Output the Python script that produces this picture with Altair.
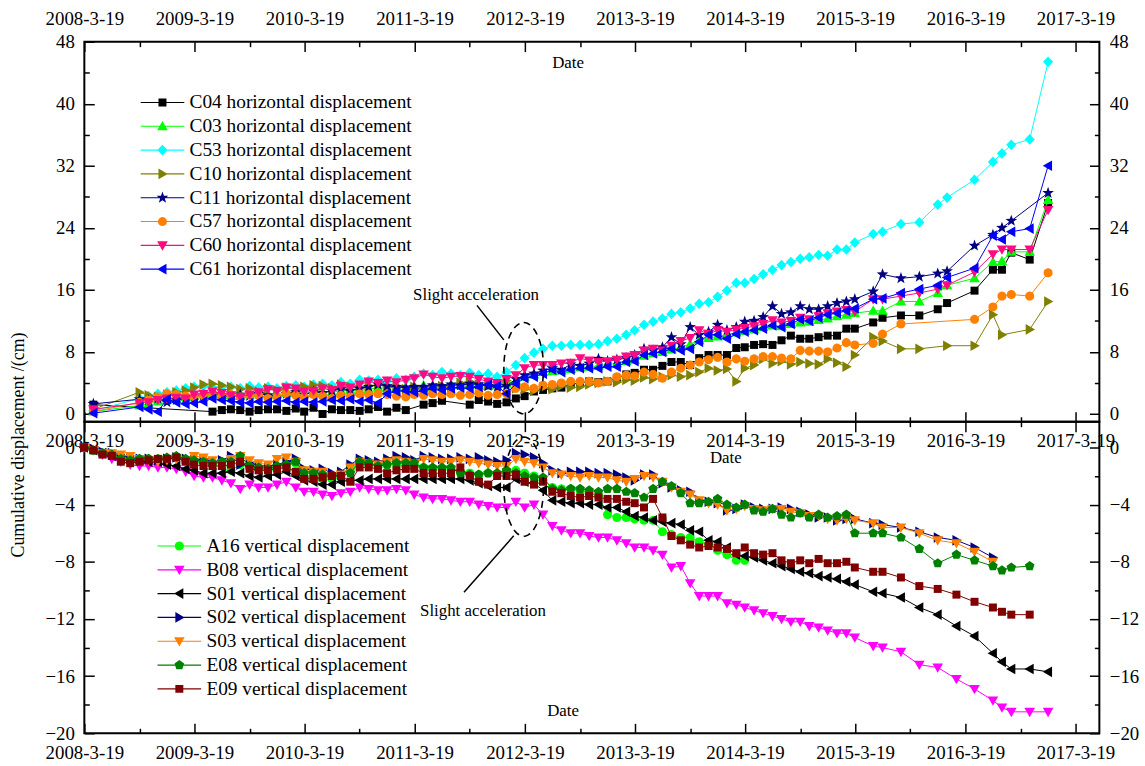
import math
import altair as alt
import pandas as pd

FONT = "Liberation Serif"

# ---------------- epochs (survey months) ----------------
DENSE_MONTHS = [
    "2008-09", "2008-10", "2008-11", "2008-12",
    "2009-01", "2009-02", "2009-03", "2009-04", "2009-05", "2009-06", "2009-07", "2009-08", "2009-09", "2009-10", "2009-11", "2009-12",
    "2010-01", "2010-02", "2010-03", "2010-04", "2010-05", "2010-06", "2010-07", "2010-08", "2010-09", "2010-10", "2010-11", "2010-12",
    "2011-01", "2011-02", "2011-03", "2011-04", "2011-05", "2011-06", "2011-07", "2011-08", "2011-09", "2011-10", "2011-11", "2011-12",
    "2012-01", "2012-02", "2012-03", "2012-04", "2012-05", "2012-06", "2012-07", "2012-08", "2012-09", "2012-10", "2012-11", "2012-12",
    "2013-01", "2013-02", "2013-03", "2013-04", "2013-05", "2013-06", "2013-07", "2013-08", "2013-09", "2013-10", "2013-11", "2013-12",
    "2014-01", "2014-02", "2014-03", "2014-04", "2014-05", "2014-06", "2014-07", "2014-08", "2014-09", "2014-10", "2014-11", "2014-12",
    "2015-01", "2015-02", "2015-03",
]
TOP_MONTHS = ["2008-04"] + DENSE_MONTHS
TOP_LATE = ["2015-05", "2015-06", "2015-08", "2015-10", "2015-12", "2016-01",
            "2016-04", "2016-06", "2016-07", "2016-08", "2016-10", "2016-12"]
BOT_MONTHS = ["2008-03", "2008-04", "2008-05", "2008-06", "2008-07", "2008-08"] + DENSE_MONTHS
BOT_LATE = ["2015-05", "2015-06", "2015-08", "2015-10", "2015-12", "2016-02",
            "2016-04", "2016-06", "2016-07", "2016-08", "2016-10", "2016-12"]
N = None

# ---------------- horizontal displacement (cm) ----------------
C04 = [1.2,
       N, N, N, N, N, N, N, N, 0.3, 0.5,
       0.6, 0.5, 0.3, 0.5, 0.6, 0.6, 0.4, 0.7, 0.3, 0.8,
       0.0, 0.6, 0.5, 0.5, 0.4, 0.6, 0.9, 0.3, 0.8, 0.5,
       N, 1.2, 1.4, 1.7, N, N, 1.2, 1.8, 1.6, 1.3,
       1.5, 2.0, 2.3, 2.9, 3.1, 3.3, 3.4, 3.8, 4.0, 4.2,
       4.1, 4.2, 4.6, 5.1, 5.3, 5.7, 5.7, 6.2, 6.7, 6.7,
       6.3, 7.2, 7.6, 7.6, 7.6, 8.5, 8.6, 8.9, 9.0, 8.9,
       9.5, 10.1, 9.7, 9.7, 9.9, 10.1, 10.1, 11.0, 11.0]
C03 = [0.3,
       1.1, 1.3, 1.6, 1.8, 2.0, 2.2, 2.3, 2.5, 2.6, 2.5,
       2.4, 2.3, 2.5, 2.7, 2.6, 2.5, 2.7, 2.8, 2.6, 2.7,
       2.9, 2.8, 3.0, 3.1, 3.0, 3.2, 3.4, 3.3, 3.5, 3.4,
       3.6, 3.7, 3.5, 3.6, 3.8, 3.7, 3.9, 3.8, 3.6, 3.8,
       3.9, 4.3, 4.8, 5.1, 5.4, 5.5, 5.6, 5.8, 6.0, 6.1,
       6.2, 6.4, 6.5, 6.8, 7.0, 7.5, 7.8, 8.0, 8.3, 8.6,
       9.0, 9.5, 9.8, 10.0, 10.2, 10.5, 10.7, 10.9, 11.2, 11.4,
       11.3, 11.6, 11.8, 11.9, 12.1, 12.3, 12.6, 12.8, 13.0]
C53 = [0.4,
       2.0, 2.3, 2.6, 2.8, 3.0, 3.3, 3.5, 3.6, 3.4, 3.5,
       3.5, 3.3, 3.6, 3.4, 3.5, 3.3, 3.6, 3.7, 3.5, 3.8,
       3.9, 3.7, 4.1, 3.9, 4.4, 4.3, 4.4, 4.2, 4.6, 4.4,
       4.8, 5.2, 5.0, 5.4, 5.2, 5.0, 5.3, 5.0, 5.2, 4.8,
       5.4, 6.3, 7.2, 7.9, 8.4, 8.8, 8.8, 8.9, 8.9, 8.9,
       9.0, 9.4, 9.7, 10.2, 10.8, 11.5, 11.9, 12.3, 12.9, 13.1,
       13.6, 14.2, 14.4, 15.1, 15.9, 16.9, 16.9, 17.4, 18.0, 18.6,
       19.2, 19.6, 20.0, 20.2, 20.5, 20.4, 21.2, 21.2, 22.1]
C10 = [0.6,
       2.8, 2.4, 2.2, 2.5, 2.8, 3.0, 3.4, 3.8, 3.9, 3.7,
       3.5, 3.2, 3.3, 2.9, 3.3, 3.0, 3.4, 3.2, 3.5, 3.7,
       3.6, 3.3, 3.8, 3.5, 3.3, 3.6, 3.8, 3.4, 3.6, 3.2,
       3.5, 3.0, 3.3, 3.6, 3.4, 4.0, 4.2, 3.8, 3.6, 3.9,
       4.3, 3.3, 3.2, 3.0, 3.4, 3.2, 3.6, 3.4, 3.5, 3.8,
       4.0, 4.2, 4.1, 4.4, 4.3, 4.7, 4.5, 4.8, 5.0, 4.8,
       5.0, 5.4, 5.9, 5.6, 5.8, 4.2, 5.9, 6.3, 7.1, 6.5,
       6.8, 6.4, 6.7, 6.5, 6.4, 7.1, 6.6, 6.1, 7.6]
C11 = [1.3,
       1.9, 1.8, 2.0, 1.5, 1.8, 2.0, 2.2, 2.4, 2.6, 2.4,
       2.2, 2.5, 2.3, 2.6, 2.4, 2.2, 2.6, 2.8, 2.5, 2.9,
       2.7, 3.0, 3.2, 3.0, 3.3, 3.5, 3.8, 3.6, 3.5, 3.4,
       3.5, 3.5, 3.7, 3.6, 3.8, 3.7, 3.9, 3.8, 3.6, 3.4,
       3.6, 4.5, 5.0, 5.2, 5.6, 5.9, 5.7, 6.4, 6.2, 6.5,
       7.1, 6.8, 7.0, 7.2, 7.6, 8.4, 8.2, 8.6, 9.9, 9.0,
       11.2, 10.2, 10.6, 11.5, 10.8, 11.2, 11.9, 12.0, 12.5, 13.9,
       12.9, 13.1, 13.9, 13.5, 13.5, 13.9, 14.3, 14.5, 14.8]
C57 = [0.3,
       1.5, 1.8, 2.2, 2.6, 2.5, 2.3, 2.2, 2.4, 2.6, 2.3,
       2.5, 2.2, 2.5, 2.4, 2.0, 2.2, 2.6, 2.4, 2.2, 2.5,
       2.3, 2.0, 2.4, 2.2, 2.6, 2.5, 2.6, 2.5, 2.3, 2.2,
       2.5, 2.4, 2.6, 2.5, 2.6, 2.4, 2.5, 2.7, 2.4, 2.5,
       2.6, 3.3, 3.5, 3.3, 3.7, 3.8, 4.0, 4.2, 4.2, 4.2,
       4.0, 4.2, 4.8, 5.0, 4.9, 5.4, 5.1, 4.6, 5.4, 5.9,
       6.3, 6.7, 7.0, 7.3, 6.7, 7.1, 6.8, 7.1, 7.4, 7.4,
       7.2, 7.1, 8.2, 8.1, 8.1, 8.0, 8.5, 9.2, 8.9]
C60 = [0.6,
       1.4, 1.5, 1.8, 2.0, 2.1, 2.0, 2.5, 2.6, 2.9, 2.7,
       2.4, 2.2, 2.5, 2.8, 3.2, 3.0, 3.4, 3.3, 2.9, 3.0,
       3.3, 3.1, 3.6, 3.4, 3.8, 4.2, 4.0, 4.3, 4.1, 4.4,
       4.6, 5.1, 4.8, 4.6, 4.8, 4.9, 4.8, 4.5, 4.2, 4.0,
       4.5, 5.0, 5.9, 6.3, 6.3, 6.3, 6.5, 6.6, 7.2, 6.9,
       6.7, 6.8, 7.0, 7.4, 7.6, 8.2, 8.4, 8.2, 8.8, 9.4,
       9.8, 10.8, 10.3, 10.8, 10.6, 10.9, 11.1, 11.3, 11.6, 12.1,
       11.8, 12.0, 12.4, 12.2, 12.6, 13.0, 13.2, 13.4, 13.2]
C61 = [0.1,
       0.9, 0.6, 0.3, 1.9, 1.5, 1.3, 1.4, 1.6, 2.0, 1.8,
       1.7, 1.5, 1.4, 1.6, 1.5, 1.6, 1.7, 1.5, 1.6, 1.5,
       1.6, 1.8, 1.7, 1.9, 1.6, 1.8, 1.4, 2.6, 2.9, 3.0,
       2.8, 3.0, 3.3, 3.1, 3.3, 3.4, 3.3, 3.5, 3.8, 3.6,
       2.6, 3.9, 4.6, 4.8, 5.2, 5.7, 5.4, 5.7, 5.9, 5.9,
       5.9, 6.1, 6.1, 6.7, 6.8, 7.6, 7.8, 8.0, 8.4, 8.2,
       8.4, 9.3, 10.2, 10.2, 9.7, 10.3, 10.6, 10.8, 11.0, 11.4,
       11.2, 11.6, 12.2, 12.0, 12.4, 12.8, 13.0, 13.3, 13.6]

C04_LATE = [11.8, 12.4, 12.7, 12.7, 13.5, 14.3, 15.9, 18.6, 18.6, 20.8, 19.9, 27.2]
C03_LATE = [13.3, 13.3, 14.5, 14.5, 15.6, 16.6, 17.5, 19.6, 19.7, 20.9, 20.9, 27.6]
C53_LATE = [23.2, 23.5, 24.5, 24.7, 27.0, 27.9, 30.2, 32.5, 33.6, 34.7, 35.4, 45.4]
C10_LATE = [9.9, 9.4, 8.4, 8.4, N, 8.8, 8.8, 12.8, 10.2, N, 10.9, 14.5]
C11_LATE = [15.8, 18.0, 17.5, 17.7, 18.1, 18.4, 21.7, 23.1, 24.0, 24.9, N, 28.5]
C57_LATE = [9.1, 10.3, 11.6, N, N, N, 12.2, 13.8, 15.2, 15.4, 15.2, 18.2]
C60_LATE = [14.8, 14.8, 15.2, 15.6, 16.1, 16.6, 18.3, 20.6, 21.2, 21.2, 21.2, 26.3]
C61_LATE = [14.8, 14.9, 15.6, 16.1, 16.6, 17.6, 18.8, 23.0, 22.5, 23.5, 23.9, 32.0]

# ---------------- vertical displacement (cm) ----------------
A16 = [0.0, -0.2, -0.4, -0.6, -0.8, -0.9,
       -0.9, -0.8, -0.9, -0.8, -0.7, -0.9, -1.0, -1.1, -1.2, -1.0,
       -1.6, -1.2, -1.4, -1.5, -1.6, -1.4, -1.3, -1.1, -2.1, -2.1,
       -2.2, -2.2, -2.1, -1.5, -1.1, -1.2, -1.3, -1.2, -1.2, -1.3,
       -1.3, -1.4, -1.5, -1.5, -1.5, -1.7, -1.8, -1.9, -1.8, -1.9,
       -1.7, -1.6, -1.8, -2.0, -2.3, -2.8, -2.9, -2.9, -3.0, -3.2,
       -3.4, -4.7, -4.9, -4.9, -5.0, -5.1, -5.1, -5.9, -6.1, -6.3,
       -6.3, -6.6, -6.8, -7.2, -7.5, -7.9, -7.9, N, N, N,
       N, N, N, N, N, N, N, N, N]
B08 = [0.0, -0.2, -0.5, -0.8, -1.0, -1.2,
       -1.3, -1.3, -1.4, -1.4, -1.5, -1.7, -2.0, -2.1, -2.1, -2.3,
       -2.5, -2.9, -2.6, -2.8, -2.8, -2.6, -2.4, -2.8, -3.1, -3.1,
       -3.3, -3.4, -3.2, -3.1, -2.8, -2.9, -3.0, -3.0, -2.9, -3.0,
       -3.3, -3.5, -3.6, -3.6, -3.7, -3.8, -3.8, -4.0, -4.1, -4.2,
       -4.2, -3.8, -4.2, -4.0, -4.7, -5.5, -5.8, -6.0, -6.0, -6.2,
       -6.3, -6.3, -6.5, -6.7, -7.0, -7.0, -7.2, -7.5, -8.4, -8.3,
       -9.5, -10.4, -10.4, -10.4, -10.9, -11.0, -11.2, -11.4, -11.6, -11.8,
       -12.0, -12.2, -12.2, -12.5, -12.6, -12.8, -13.0, -13.0, -13.3]
S01 = [0.0, -0.2, -0.4, -0.6, -0.8, -0.9,
       -0.9, -1.0, -1.0, -1.2, -1.3, -1.5, -1.6, -1.8, -1.8, -1.8,
       -1.7, -1.8, -2.0, -2.1, -2.0, -1.9, -1.7, -2.0, -2.3, -2.4,
       -2.6, -2.6, -2.4, -2.3, -2.3, -2.2, -2.2, -2.2, -2.2, -2.2,
       -2.2, -2.2, -2.2, -2.2, -2.2, -2.2, -2.3, -2.5, -2.7, -2.8,
       -2.8, -2.2, -2.4, -2.5, -3.0, -3.7, -3.8, -3.9, -3.9, -4.0,
       -4.0, -4.2, -4.2, -4.5, -4.8, -4.9, -5.1, -5.2, -5.3, -5.4,
       -5.8, -5.9, -6.5, -6.6, -7.0, -7.5, -7.6, -7.7, -7.9, -8.1,
       -8.3, -8.5, -8.7, -8.8, -9.0, -9.1, -9.2, -9.4, -9.6]
S02 = [0.0, -0.1, -0.3, -0.4, -0.6, -0.7,
       -0.8, -0.8, -0.9, -0.8, -0.7, -0.8, -0.9, -0.8, -1.0, -0.9,
       -0.6, -1.2, -1.1, -1.3, -1.3, -1.2, -1.0, -0.8, -1.5, -1.6,
       -1.5, -1.8, -1.7, -1.2, -0.8, -0.9, -1.0, -0.8, -0.6, -0.7,
       -0.9, -0.6, -0.7, -0.8, -0.8, -0.7, -0.8, -0.7, -0.9, -1.0,
       -0.9, -0.4, -0.5, -0.7, -1.1, -1.6, -1.8, -1.7, -1.7, -1.7,
       -1.8, -1.8, -1.9, -2.1, -2.3, -1.9, -1.9, -2.5, -2.8, -3.0,
       -3.1, -3.7, -3.8, -3.9, -4.4, -4.3, -4.0, -4.2, -4.3, -4.3,
       -4.2, -4.3, -4.5, -4.7, -4.9, -4.9, -5.1, -5.0, -5.0]
S03 = [0.0, -0.2, -0.4, -0.4, -0.5, -0.6,
       -0.8, -0.9, -1.0, -0.9, -0.8, -0.9, -0.6, -0.7, -0.9, -1.1,
       -0.8, -0.6, -0.9, -1.1, -1.2, -0.8, -0.7, -1.0, -1.6, -1.7,
       -1.7, -2.0, -1.9, -1.4, -1.0, -1.1, -1.2, -1.0, -0.9, -1.0,
       -1.1, -0.8, -0.9, -1.0, -1.0, -0.9, -1.0, -1.1, -1.2, -1.3,
       -1.3, -0.8, -1.0, -1.1, -1.4, -1.8, -1.9, -2.0, -2.1, -2.0,
       -2.1, -2.1, -2.3, -2.4, -2.2, -2.0, -2.1, -2.4, -2.8, -3.1,
       -3.3, -3.7, -3.9, -4.0, -4.4, -4.3, -4.1, -4.3, -4.4, -4.3,
       -4.3, -4.5, -4.6, -4.8, -4.8, -5.0, -5.1, -5.0, -5.1]
E08 = [0.0, -0.2, -0.4, -0.5, -0.8, -0.9,
       -0.8, -0.8, -0.8, -0.7, -0.6, -0.8, -0.9, -1.0, -1.1, -1.0,
       -1.0, -0.6, -1.3, -1.4, -1.5, -1.3, -1.2, -1.0, -1.8, -1.8,
       -1.9, -2.0, -2.0, -1.8, -1.0, -1.1, -1.3, -1.2, -1.1, -1.1,
       -1.1, -1.4, -1.4, -1.4, -1.4, -1.8, -1.9, -1.9, -1.8, -1.8,
       -1.6, -1.8, -2.0, -2.1, -2.1, -2.9, -3.0, -2.9, -2.9, -3.0,
       -3.1, -2.9, -2.9, -3.1, -3.2, -3.5, -2.9, -2.4, -2.7, -3.2,
       -3.9, -3.9, -3.8, -3.6, -4.0, -4.2, -4.0, -4.4, -4.5, -4.3,
       -4.7, -4.9, -4.6, -4.9, -4.7, -4.9, -4.8, -4.7, -6.0]
E09 = [0.0, -0.2, -0.5, -0.6, -1.0, -1.1,
       -1.0, -0.9, -0.8, -0.8, -0.7, -1.0, -1.2, -1.3, -1.3, -1.3,
       -1.2, -1.0, -1.5, -1.6, -1.6, -1.5, -1.4, -1.7, -2.2, -2.2,
       -2.1, -2.0, -2.0, -2.4, -1.4, -1.4, -1.5, -1.8, -1.6, -1.5,
       -1.5, -1.8, -1.8, -1.8, -1.8, -1.4, -2.0, -2.4, -2.6, -2.0,
       -2.0, -1.9, -2.4, -2.6, -2.4, -3.1, -3.2, -3.4, -3.5, -3.4,
       -3.5, -3.6, -3.6, -3.8, -3.9, -4.2, -3.6, -4.9, -6.2, -6.5,
       -6.8, -7.0, -6.9, -7.0, -7.1, -7.4, -7.0, -7.4, -7.5, -7.4,
       -7.9, -8.1, -7.9, -8.1, -7.8, -8.1, -8.1, -8.0, -8.4]

A16_LATE = [N, N, N, N, N, N, N, N, N, N, N, N]
B08_LATE = [-13.9, -14.0, -14.3, -15.2, -15.4, -16.2, -16.9, -17.7, -18.2, -18.5, -18.5, -18.5]
S01_LATE = [-10.1, -10.2, -10.5, -11.2, -11.7, -12.5, -13.2, -14.4, -15.0, -15.5, -15.5, -15.7]
S02_LATE = [-5.3, -5.4, -5.6, -5.9, -6.3, -6.5, -7.0, -7.7, N, N, N, N]
S03_LATE = [-5.3, -5.6, -5.6, -6.0, -6.5, -6.7, -7.3, -8.0, N, N, N, N]
E08_LATE = [-6.0, -6.0, -6.3, -7.1, -8.1, -7.5, -7.9, -8.3, -8.6, -8.4, -8.3, N]
E09_LATE = [-8.7, -8.7, -9.1, -9.7, -9.9, -10.3, -10.8, -11.2, -11.5, -11.7, -11.7, N]

TOP_NAMES = ["C04", "C03", "C53", "C10", "C11", "C57", "C60", "C61"]
TOP_COLORS = ["#000000", "#00FF00", "#00FFFF", "#808000", "#000080", "#FF8000", "#FF0A80", "#0000FF"]
TOP_SHAPES = ["square", "triangle-up", "diamond", "triangle-right", "star", "circle", "triangle-down", "triangle-left"]
BOT_NAMES = ["A16", "B08", "S01", "S02", "S03", "E08", "E09"]
BOT_COLORS = ["#00FF00", "#FF00FF", "#000000", "#000080", "#FF8000", "#008000", "#800000"]
BOT_SHAPES = ["circle", "triangle-down", "triangle-left", "triangle-right", "triangle-down", "pentagon", "square"]

X_MAJOR = ["2008-03-19", "2009-03-19", "2010-03-19", "2011-03-19", "2012-03-19",
           "2013-03-19", "2014-03-19", "2015-03-19", "2016-03-19", "2017-03-19"]
X_MINOR = ["2008-09-18", "2009-09-18", "2010-09-18", "2011-09-18", "2012-09-18",
           "2013-09-18", "2014-09-18", "2015-09-18", "2016-09-18"]
X_RANGE = ["2008-03-19", "2017-06-06"]
TOP_Y_MAJOR = [0, 8, 16, 24, 32, 40, 48]
TOP_Y_MINOR = [4, 12, 20, 28, 36, 44]
BOT_Y_MAJOR = [0, -4, -8, -12, -16, -20]
BOT_Y_MINOR = [-2, -6, -10, -14, -18]


def build(names, suffix, dense, late, months, late_months):
    rows = []
    for n, d, l in zip(names, dense, late):
        assert len(d) == len(months), (n, len(d), len(months))
        assert len(l) == len(late_months), (n, len(l), len(late_months))
        for m, v in zip(months + late_months, d + l):
            if v is not None:
                rows.append({"date": m + "-18", "value": v, "series": n + " " + suffix})
    return pd.DataFrame(rows)


top_df = build(TOP_NAMES, "horizontal displacement",
               [C04, C03, C53, C10, C11, C57, C60, C61],
               [C04_LATE, C03_LATE, C53_LATE, C10_LATE, C11_LATE, C57_LATE, C60_LATE, C61_LATE],
               TOP_MONTHS, TOP_LATE)
bot_df = build(BOT_NAMES, "vertical displacement",
               [A16, B08, S01, S02, S03, E08, E09],
               [A16_LATE, B08_LATE, S01_LATE, S02_LATE, S03_LATE, E08_LATE, E09_LATE],
               BOT_MONTHS, BOT_LATE)


def dt(s):
    y, m, d = (int(p) for p in s.split("-"))
    return alt.DateTime(year=y, month=m, date=d, utc=True)


# ---------------- marker paths ----------------
def poly(pts):
    return "M" + "L".join(f"{x:.3f},{y:.3f}" for x, y in pts) + "Z"


def ring(r, n, ry=None, start=0.0):
    ry = r if ry is None else ry
    return [(r * math.sin(start + 2 * math.pi * i / n), -ry * math.cos(start + 2 * math.pi * i / n)) for i in range(n)]


def star(ro, ri):
    pts = []
    for i in range(10):
        a = math.pi * i / 5
        r = ro if i % 2 == 0 else ri
        pts.append((r * math.sin(a), -r * math.cos(a)))
    return pts


MARKERS = {
    "square": poly([(-0.75, -0.75), (0.75, -0.75), (0.75, 0.75), (-0.75, 0.75)]),
    "triangle-up": poly([(0, -1), (1, 0.75), (-1, 0.75)]),
    "triangle-down": poly([(-1, -0.75), (1, -0.75), (0, 1)]),
    "triangle-right": poly([(-0.75, -1), (1, 0), (-0.75, 1)]),
    "triangle-left": poly([(0.75, -1), (0.75, 1), (-1, 0)]),
    "diamond": poly([(0, -1), (0.95, 0), (0, 1), (-0.95, 0)]),
    "circle": poly(ring(0.85, 20)),
    "star": poly(star(1.15, 0.47)),
    "pentagon": poly(ring(0.95, 5)),
}
MARK_SIZE = 115
LEGEND_LINE = "M-4.1,-0.11L4.1,-0.11L4.1,0.11L-4.1,0.11Z"


def ellipse(rx):
    return poly(ring(rx, 60, ry=1.0))


# ---------------- axes ----------------
LABEL_EXPR = "utcFormat(datum.value, '%Y-%-m-%-d')"


def x_labels(orient, pad, title=None, tx=0, ty=0):
    kw = dict(orient=orient, values=[dt(s) for s in X_MAJOR], labelExpr=LABEL_EXPR,
              ticks=False, domain=False, labelPadding=pad, labelFlush=False, labelOverlap=False,
              labelFont=FONT, labelFontSize=19, labelColor="black")
    if title:
        kw.update(title=title, titleX=tx, titleY=ty, titleAlign="center", titleBaseline="middle",
                  titleAngle=0, titleFont=FONT, titleFontSize=17, titleFontWeight="normal", titleColor="black")
    else:
        kw.update(title=None)
    return alt.Axis(**kw)


def y_labels(orient, values, title=None, tx=0, ty=0):
    kw = dict(orient=orient, values=values, ticks=False, domain=False, labelPadding=10,
              labelOverlap=False, labelFlush=False, labelFont=FONT, labelFontSize=19, labelColor="black",
              labelBaseline="middle")
    if title:
        kw.update(title=title, titleX=tx, titleY=ty, titleAlign="center", titleBaseline="middle",
                  titleAngle=270, titleFont=FONT, titleFontSize=18, titleFontWeight="normal", titleColor="black")
    else:
        kw.update(title=None)
    return alt.Axis(**kw)


def ticks(orient, values, size):
    return alt.Axis(orient=orient, values=values, labels=False, domain=False, ticks=True,
                    tickSize=size, offset=-size, tickWidth=1.5, tickColor="black", title=None)


def axis_layer(df, xs, ys, xaxis, yaxis):
    return alt.Chart(df).transform_filter("false").mark_point().encode(
        x=alt.X("date:T", scale=xs, axis=xaxis),
        y=alt.Y("value:Q", scale=ys, axis=yaxis),
    )


def panel(df, names, suffix, colors, shapes, ydom, ymaj, ymin, height, label_axes, legend_xy, notes):
    xs = alt.Scale(type="utc", domain=[dt(X_RANGE[0]), dt(X_RANGE[1])], nice=False)
    ys = alt.Scale(domain=ydom, nice=False, zero=False)
    xmaj = [dt(s) for s in X_MAJOR]
    xmin = [dt(s) for s in X_MINOR]
    layers = []
    (xl1, yl1), (xl2, yl2) = label_axes
    layers.append(axis_layer(df, xs, ys, xl1, yl1))
    layers.append(axis_layer(df, xs, ys, xl2, yl2))
    layers.append(axis_layer(df, xs, ys, ticks("top", xmaj, 10), ticks("left", ymaj, 10)))
    layers.append(axis_layer(df, xs, ys, ticks("bottom", xmaj, 10), ticks("right", ymaj, 10)))
    layers.append(axis_layer(df, xs, ys, ticks("top", xmin, 5), ticks("left", ymin, 5)))
    layers.append(axis_layer(df, xs, ys, ticks("bottom", xmin, 5), ticks("right", ymin, 5)))

    labels = [n + " " + suffix for n in names]
    for lab, col, shp in zip(labels, colors, shapes):
        sub = df[df["series"] == lab]
        base = alt.Chart(sub).encode(
            x=alt.X("date:T", scale=xs, axis=None),
            y=alt.Y("value:Q", scale=ys, axis=None),
        )
        layers.append(base.mark_line(color=col, strokeWidth=1))
        layers.append(base.mark_point(shape=MARKERS[shp], filled=True, color=col, size=MARK_SIZE,
                                      strokeWidth=0, opacity=1))

    lg = alt.Legend(orient="none", legendX=legend_xy[0], legendY=legend_xy[1], title=None,
                    labelFont=FONT, labelFontSize=19.5, labelColor="black", symbolSize=MARK_SIZE,
                    symbolStrokeWidth=0, symbolOpacity=1, labelOffset=17.5, rowPadding=3, padding=0,
                    labelLimit=400, direction="vertical")
    legend_layer = alt.Chart(df).transform_filter("false").mark_point(filled=True, opacity=1).encode(
        x=alt.X("date:T", scale=xs, axis=None),
        y=alt.Y("value:Q", scale=ys, axis=None),
        fill=alt.Fill("series:N", scale=alt.Scale(domain=labels, range=colors), legend=lg),
        shape=alt.Shape("series:N", scale=alt.Scale(domain=labels,
                                                      range=[LEGEND_LINE + MARKERS[s] for s in shapes]),
                        legend=lg),
    )
    layers.append(legend_layer)

    text_df, rule_df, ell_df, ell_rx, ell_size = notes
    layers.append(alt.Chart(text_df).mark_text(font=FONT, fontSize=17, color="black", align="center",
                                               baseline="middle").encode(
        x=alt.X("date:T", scale=xs, axis=None), y=alt.Y("value:Q", scale=ys, axis=None), text="text:N"))
    layers.append(alt.Chart(rule_df).mark_rule(color="black", strokeWidth=1.5).encode(
        x=alt.X("date:T", scale=xs, axis=None), y=alt.Y("value:Q", scale=ys, axis=None),
        x2="date2:T", y2="value2:Q"))
    layers.append(alt.Chart(ell_df).mark_point(shape=ellipse(ell_rx), filled=False, color="black",
                                               strokeWidth=1.6, strokeDash=[7, 5], size=ell_size,
                                               opacity=1).encode(
        x=alt.X("date:T", scale=xs, axis=None), y=alt.Y("value:Q", scale=ys, axis=None)))

    return alt.layer(*layers).resolve_axis(x="independent", y="independent").properties(
        width=1023, height=height)


# annotations (data coordinates)
TOP_TEXT = pd.DataFrame({"date": ["2011-10-09"], "value": [15.3], "text": ["Slight acceleration"]})
TOP_RULE = pd.DataFrame({"date": ["2011-10-12"], "value": [14.0], "date2": ["2012-01-09"], "value2": [9.55]})
TOP_ELL = pd.DataFrame({"date": ["2012-03-15"], "value": [5.9]})
BOT_TEXT = pd.DataFrame({"date": ["2011-11-01"], "value": [-11.46], "text": ["Slight acceleration"]})
BOT_RULE = pd.DataFrame({"date": ["2012-02-11"], "value": [-6.18], "date2": ["2011-08-30"], "value2": [-10.14]})
BOT_ELL = pd.DataFrame({"date": ["2012-03-15"], "value": [-2.74]})

top = panel(
    top_df, TOP_NAMES, "horizontal displacement", TOP_COLORS, TOP_SHAPES,
    [-1, 48], TOP_Y_MAJOR, TOP_Y_MINOR, 383,
    [(x_labels("top", 13, "Date", 487, 21),
      y_labels("left", TOP_Y_MAJOR, "Cumulative displacement /(cm)", -66, 406)),
     (x_labels("bottom", 10, "Date", 646, 36), y_labels("right", TOP_Y_MAJOR))],
    (69, 51.5),
    (TOP_TEXT, TOP_RULE, TOP_ELL, 0.435, 8464),
)
bottom = panel(
    bot_df, BOT_NAMES, "vertical displacement", BOT_COLORS, BOT_SHAPES,
    [-20, 1.8], BOT_Y_MAJOR, BOT_Y_MINOR, 314,
    [(None, y_labels("left", BOT_Y_MAJOR)),
     (x_labels("bottom", 10, "Date", 482, -23), y_labels("right", BOT_Y_MAJOR))],
    (86, 115.5),
    (BOT_TEXT, BOT_RULE, BOT_ELL, 0.4, 10000),
)

chart = alt.vconcat(top, bottom, spacing=0, bounds="flush").resolve_scale(
    fill="independent", shape="independent"
).properties(
    padding={"left": 9, "top": 6, "right": 5, "bottom": 5},
    background="white",
).configure_view(stroke="black", strokeWidth=2).configure_axis(grid=False)

chart.save("out.html", embed_options={"renderer": "svg", "actions": False})
